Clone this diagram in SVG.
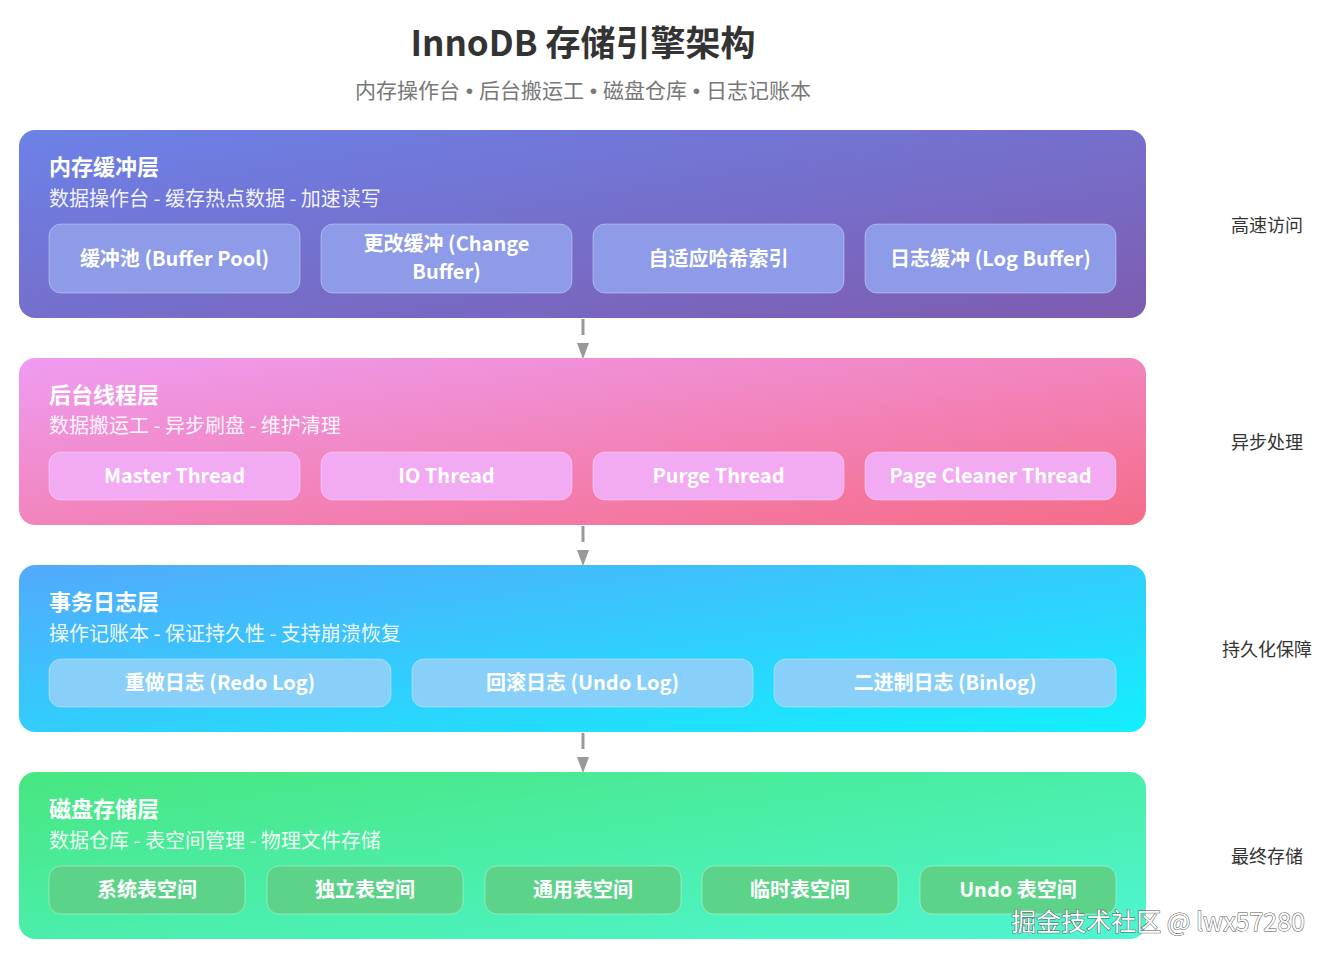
<svg xmlns="http://www.w3.org/2000/svg" width="1331" height="962" viewBox="0 0 1331 962">
<defs>
<linearGradient id="g1" x1="0" y1="0" x2="1" y2="1"><stop offset="0" stop-color="#6c82e8"/><stop offset="1" stop-color="#7e5cb0"/></linearGradient>
<linearGradient id="g2" x1="0" y1="0" x2="1" y2="1"><stop offset="0" stop-color="#ef9cf2"/><stop offset="1" stop-color="#f56c88"/></linearGradient>
<linearGradient id="g3" x1="0" y1="0" x2="1" y2="1"><stop offset="0" stop-color="#52aafc"/><stop offset="1" stop-color="#12f0fe"/></linearGradient>
<linearGradient id="g4" x1="0" y1="0" x2="1" y2="1"><stop offset="0" stop-color="#48e680"/><stop offset="1" stop-color="#4ef6d2"/></linearGradient>
</defs>
<style>
text{font-family:"Noto Sans CJK SC","Noto Sans",sans-serif}
.title{font-size:35px;font-weight:700;fill:#333;text-anchor:middle}
.sub{font-size:21px;fill:#777;text-anchor:middle}
.dot{font-family:"Liberation Sans",sans-serif}
.lt{font-size:22px;font-weight:700;fill:#fff}
.ls{font-size:20px;fill:#fff;fill-opacity:0.92}
.bt{font-size:20px;font-weight:700;fill:#fff;text-anchor:middle}
.side{font-size:18px;fill:#333;text-anchor:middle}
.b1{fill:#8d9be8;stroke:#fff;stroke-opacity:0.35;stroke-width:1}
.b2{fill:#f2aaf3;stroke:#fff;stroke-opacity:0.35;stroke-width:1}
.b3{fill:#88cffa;stroke:#fff;stroke-opacity:0.35;stroke-width:1}
.b4{fill:#5dd38a;stroke:#fff;stroke-opacity:0.35;stroke-width:1}
.conn{stroke:#999;stroke-width:3;fill:none}
.ah{fill:#999}
</style>
<rect width="1331" height="962" fill="#fff"/>
<text class="title" x="583" y="56">InnoDB 存储引擎架构</text>
<text class="sub" x="583" y="98">内存操作台<tspan class="dot"> • </tspan>后台搬运工<tspan class="dot"> • </tspan>磁盘仓库<tspan class="dot"> • </tspan>日志记账本</text>

<g id="connectors">
<path class="conn" d="M583,319V335"/><polygon class="ah" points="577,343 589,343 583,359"/>
<path class="conn" d="M583,526V542"/><polygon class="ah" points="577,550 589,550 583,566"/>
<path class="conn" d="M583,733V749"/><polygon class="ah" points="577,757 589,757 583,773"/>
</g>

<g id="layer-memory">
<rect x="19" y="130" width="1127" height="188" rx="16" fill="url(#g1)"/>
<text class="lt" x="49" y="175">内存缓冲层</text>
<text class="ls" x="49" y="206">数据操作台 - 缓存热点数据 - 加速读写</text>
<g id="buffer-pool"><rect class="b1" x="49" y="224" width="251" height="69" rx="12"/><text class="bt" x="174.5" y="266">缓冲池 (Buffer Pool)</text></g>
<g id="change-buffer"><rect class="b1" x="321" y="224" width="251" height="69" rx="12"/><text class="bt" x="446.5" y="251">更改缓冲 (Change</text><text class="bt" x="446.5" y="279">Buffer)</text></g>
<g id="ahi"><rect class="b1" x="593" y="224" width="251" height="69" rx="12"/><text class="bt" x="718.5" y="266">自适应哈希索引</text></g>
<g id="log-buffer"><rect class="b1" x="865" y="224" width="251" height="69" rx="12"/><text class="bt" x="990.5" y="266">日志缓冲 (Log Buffer)</text></g>
</g>

<g id="layer-threads">
<rect x="19" y="358" width="1127" height="167" rx="16" fill="url(#g2)"/>
<text class="lt" x="49" y="403">后台线程层</text>
<text class="ls" x="49" y="433">数据搬运工 - 异步刷盘 - 维护清理</text>
<g id="master-thread"><rect class="b2" x="49" y="452" width="251" height="48" rx="12"/><text class="bt" x="174.5" y="483">Master Thread</text></g>
<g id="io-thread"><rect class="b2" x="321" y="452" width="251" height="48" rx="12"/><text class="bt" x="446.5" y="483">IO Thread</text></g>
<g id="purge-thread"><rect class="b2" x="593" y="452" width="251" height="48" rx="12"/><text class="bt" x="718.5" y="483">Purge Thread</text></g>
<g id="page-cleaner"><rect class="b2" x="865" y="452" width="251" height="48" rx="12"/><text class="bt" x="990.5" y="483">Page Cleaner Thread</text></g>
</g>

<g id="layer-logs">
<rect x="19" y="565" width="1127" height="167" rx="16" fill="url(#g3)"/>
<text class="lt" x="49" y="610">事务日志层</text>
<text class="ls" x="49" y="641">操作记账本 - 保证持久性 - 支持崩溃恢复</text>
<g id="redo-log"><rect class="b3" x="49" y="659" width="342" height="48" rx="12"/><text class="bt" x="220" y="690">重做日志 (Redo Log)</text></g>
<g id="undo-log"><rect class="b3" x="412" y="659" width="341" height="48" rx="12"/><text class="bt" x="582.5" y="690">回滚日志 (Undo Log)</text></g>
<g id="binlog"><rect class="b3" x="774" y="659" width="342" height="48" rx="12"/><text class="bt" x="945" y="690">二进制日志 (Binlog)</text></g>
</g>

<g id="layer-disk">
<rect x="19" y="772" width="1127" height="167" rx="16" fill="url(#g4)"/>
<text class="lt" x="49" y="817">磁盘存储层</text>
<text class="ls" x="49" y="848">数据仓库 - 表空间管理 - 物理文件存储</text>
<g id="system-ts"><rect class="b4" x="49" y="866" width="196" height="48" rx="12"/><text class="bt" x="147" y="897">系统表空间</text></g>
<g id="file-ts"><rect class="b4" x="267" y="866" width="196" height="48" rx="12"/><text class="bt" x="365" y="897">独立表空间</text></g>
<g id="general-ts"><rect class="b4" x="485" y="866" width="196" height="48" rx="12"/><text class="bt" x="583" y="897">通用表空间</text></g>
<g id="temp-ts"><rect class="b4" x="702" y="866" width="196" height="48" rx="12"/><text class="bt" x="800" y="897">临时表空间</text></g>
<g id="undo-ts"><rect class="b4" x="920" y="866" width="196" height="48" rx="12"/><text class="bt" x="1018" y="897">Undo 表空间</text></g>
</g>

<g id="side-labels">
<text class="side" x="1267" y="232">高速访问</text>
<text class="side" x="1267" y="449">异步处理</text>
<text class="side" x="1267" y="656">持久化保障</text>
<text class="side" x="1267" y="863">最终存储</text>
</g>

<text x="1305" y="931" text-anchor="end" font-size="25" fill="#fafafa" stroke="#555" stroke-width="1" paint-order="stroke">掘金技术社区 @ lwx57280</text>
</svg>
